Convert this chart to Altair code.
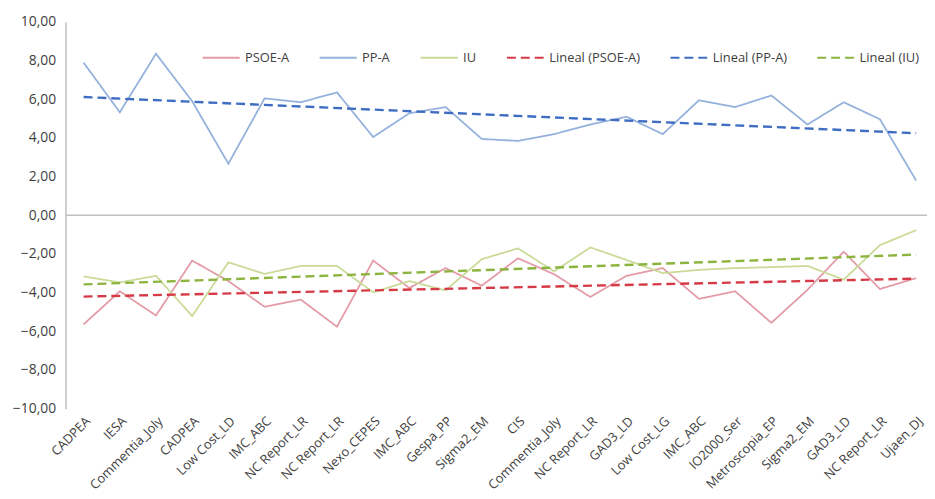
import json
import altair as alt
import pandas as pd

categories = ["CADPEA", "IESA", "Commentia_Joly", "CADPEA", "Low Cost_LD", "IMC_ABC",
              "NC Report_LR", "NC Report_LR", "Nexo_CEPES", "IMC_ABC", "Gespa_PP", "Sigma2_EM",
              "CIS", "Commentia_Joly", "NC Report_LR", "GAD3_LD", "Low Cost_LG", "IMC_ABC",
              "IO2000_Ser", "Metroscopia_EP", "Sigma2_EM", "GAD3_LD", "NC Report_LR", "Ujaen_DJ"]

psoe = [-5.64, -3.93, -5.18, -2.34, -3.4, -4.73, -4.36, -5.76, -2.34, -3.76, -2.73, -3.64,
        -2.22, -3.05, -4.22, -3.13, -2.73, -4.32, -3.93, -5.56, -3.85, -1.88, -3.81, -3.25]
pp = [7.9, 5.33, 8.36, 5.9, 2.67, 6.05, 5.85, 6.36, 4.05, 5.28, 5.6, 3.95,
      3.85, 4.2, 4.7, 5.1, 4.2, 5.95, 5.6, 6.2, 4.7, 5.85, 4.97, 1.8]
iu = [-3.16, -3.47, -3.13, -5.21, -2.43, -3.03, -2.62, -2.62, -3.98, -3.4, -3.88, -2.27,
      -1.71, -2.9, -1.66, -2.31, -2.99, -2.82, -2.73, -2.68, -2.62, -3.33, -1.54, -0.77]

series_names = ["PSOE-A", "PP-A", "IU"]
legend_order = ["PSOE-A", "PP-A", "IU", "Lineal (PSOE-A)", "Lineal (PP-A)", "Lineal (IU)"]
colors = ["#E49BA8", "#94B2DC", "#CADB98", "#D63A46", "#3E6DC2", "#8DB43E"]
dashes = [[1, 0], [1, 0], [1, 0], [9, 5], [9, 5], [9, 5]]

rows = []
for name, vals in zip(series_names, [psoe, pp, iu]):
    for i, v in enumerate(vals):
        rows.append({"serie": name, "idx": i + 1, "valor": v})
df = pd.DataFrame(rows)

font = "Open Sans"
label_expr = json.dumps(categories) + "[datum.value - 1]"

color_scale = alt.Scale(domain=legend_order, range=colors)
dash_scale = alt.Scale(domain=legend_order, range=dashes)
legend = alt.Legend(
    title=None, orient="none", legendX=137, legendY=16, direction="horizontal",
    symbolType="stroke", symbolSize=1400, symbolStrokeWidth=2, labelFont=font,
    labelFontSize=13, labelColor="#404040", columnPadding=26, padding=0, labelOffset=4,
)

x_enc = alt.X("idx:Q", scale=alt.Scale(domain=[0.5, 24.3], nice=False, zero=False),
              axis=alt.Axis(values=list(range(1, 25)), tickCount=40, labelExpr=label_expr,
                            labelAngle=-45, labelOverlap=False, domain=False, ticks=False,
                            grid=False, title=None, labelFont=font, labelFontSize=13,
                            labelColor="#404040", labelPadding=6, labelLimit=300))
y_enc = alt.Y("valor:Q", scale=alt.Scale(domain=[-10, 10], nice=False),
              axis=alt.Axis(values=list(range(-10, 11, 2)), tickCount=40,
                            labelExpr="replace(format(datum.value, '.2f'), '.', ',')",
                            labelOverlap=False, labelFlush=False,
                            grid=False, ticks=False, domainColor="#BFBFBF", domainWidth=1.5,
                            title=None, labelFont=font, labelFontSize=14,
                            labelColor="#404040", labelPadding=10))

base = alt.Chart(df)

lines = base.mark_line(strokeWidth=1.8).encode(
    x=x_enc, y=y_enc,
    color=alt.Color("serie:N", scale=color_scale, legend=legend, sort=legend_order),
    strokeDash=alt.StrokeDash("serie:N", scale=dash_scale, legend=legend, sort=legend_order),
    detail="serie:N",
)

trends = base.transform_regression("idx", "valor", groupby=["serie"]).transform_calculate(
    serie="'Lineal (' + datum.serie + ')'"
).mark_line(strokeWidth=2.4).encode(
    x="idx:Q", y="valor:Q",
    color=alt.Color("serie:N", scale=color_scale, legend=legend, sort=legend_order),
    strokeDash=alt.StrokeDash("serie:N", scale=dash_scale, legend=legend, sort=legend_order),
)

zero = alt.Chart(pd.DataFrame({"y": [0]})).mark_rule(color="#BFBFBF", strokeWidth=1.5).encode(
    y="y:Q"
)

chart = alt.layer(zero, lines, trends).properties(
    width=869, height=390,
    autosize=alt.AutoSizeParams(type="none"),
    padding={"left": 58, "top": 12, "right": 0, "bottom": 89},
).configure_view(stroke=None)

chart.save("out.html", embed_options={"renderer": "svg", "actions": False})
